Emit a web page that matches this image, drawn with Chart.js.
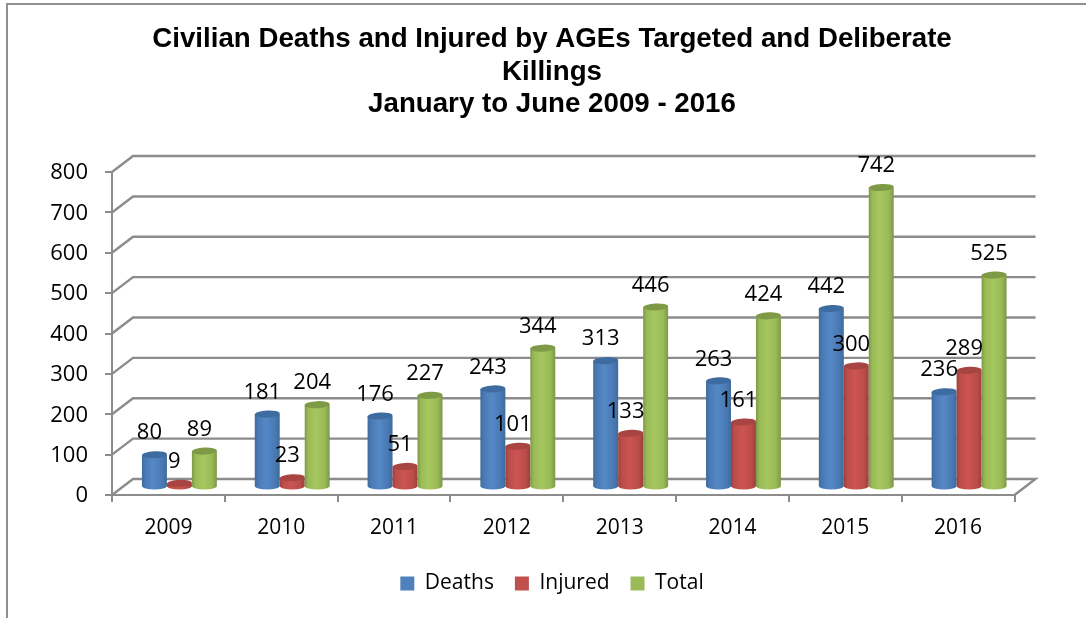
<!DOCTYPE html>
<html>
<head>
<meta charset="utf-8">
<style>html,body{margin:0;padding:0;background:#fff}canvas{display:block}</style>
<script src="https://cdn.jsdelivr.net/npm/chart.js@4"></script>
</head>
<body>
<canvas id="c" width="1086" height="618"></canvas>
<script>
const titleLines = ['Civilian Deaths and Injured by AGEs Targeted and Deliberate', 'Killings', 'January to June 2009 - 2016'];
const years = ['2009', '2010', '2011', '2012', '2013', '2014', '2015', '2016'];
const deaths = [80, 181, 176, 243, 313, 263, 442, 236];
const injured = [9, 23, 51, 101, 133, 161, 300, 289];
const total = [89, 204, 227, 344, 446, 424, 742, 525];
const yTicks = [0, 100, 200, 300, 400, 500, 600, 700, 800];

const FONT = '"Open Sans", Lato, sans-serif';
const GRID = '#8c8c8c';
const DX = 21, DY = 16;        // depth of the 3D box
const BAR_DX = 11, BAR_DY = 8; // bars stand in the middle of the floor

const palette = {
  Deaths:  {base:'#4f81bd', dark:'#3f6a9c', mid:'#4a7ab5', light:'#5488c6', top:'#3e6ca1'},
  Injured: {base:'#c0504d', dark:'#9d403e', mid:'#bb4d4a', light:'#cc5451', top:'#a84542'},
  Total:   {base:'#9bbb59', dark:'#7d9848', mid:'#9aba57', light:'#a6c75f', top:'#7f9a47'}
};

const wall3d = {
  id: 'wall3d',
  beforeDraw(chart) {
    const {ctx, scales:{x, y}, chartArea:a} = chart;
    ctx.save();
    ctx.fillStyle = '#fff';
    ctx.fillRect(0, 0, chart.width, chart.height);
    // outer frame
    ctx.strokeStyle = '#8f8f8f';
    ctx.lineWidth = 2;
    ctx.beginPath();
    ctx.moveTo(7, 618); ctx.lineTo(7, 4); ctx.lineTo(1086, 4);
    ctx.stroke();
    // gridlines on side wall and back wall
    ctx.strokeStyle = GRID;
    ctx.lineWidth = 2.4;
    ctx.lineJoin = 'miter';
    for (const v of yTicks) {
      const py = y.getPixelForValue(v);
      ctx.beginPath();
      ctx.moveTo(a.left, py);
      ctx.lineTo(a.left + DX, py - DY);
      ctx.lineTo(a.right + DX, py - DY);
      if (v === 0) ctx.lineTo(a.right, py);
      ctx.stroke();
    }
    ctx.restore();
  },
  beforeDatasetsDraw(chart) {
    const {ctx} = chart;
    chart.data.datasets.forEach((ds, di) => {
      const c = palette[ds.label];
      chart.getDatasetMeta(di).data.forEach((bar, i) => {
        const w = bar.width, r = w / 2, ry = 3.5;
        const cx = bar.x + BAR_DX, top = bar.y - BAR_DY, base = bar.base - BAR_DY;
        const left = cx - r, right = cx + r;
        const g = ctx.createLinearGradient(left, 0, right, 0);
        g.addColorStop(0, c.dark);
        g.addColorStop(0.14, c.mid);
        g.addColorStop(0.45, c.light);
        g.addColorStop(0.8, c.mid);
        g.addColorStop(1, c.dark);
        ctx.save();
        ctx.fillStyle = g;
        ctx.beginPath();
        ctx.moveTo(left, top);
        ctx.lineTo(left, base);
        ctx.ellipse(cx, base, r, ry, 0, Math.PI, 0, true);
        ctx.lineTo(right, top);
        ctx.closePath();
        ctx.fill();
        ctx.fillStyle = c.top;
        ctx.beginPath();
        ctx.ellipse(cx, top, r, ry, -0.05, 0, Math.PI * 2);
        ctx.fill();
        ctx.restore();
      });
    });
    // value labels
    ctx.save();
    ctx.font = '22px ' + FONT;
    ctx.fillStyle = '#000';
    ctx.textAlign = 'center';
    ctx.textBaseline = 'middle';
    chart.data.datasets.forEach((ds, di) => {
      chart.getDatasetMeta(di).data.forEach((bar, i) => {
        ctx.fillText(String(ds.data[i]), bar.x + BAR_DX - 5, bar.y - BAR_DY - 21.5);
      });
    });
    ctx.restore();
    return false;
  }
};

new Chart(document.getElementById('c'), {
  type: 'bar',
  data: {
    labels: years,
    datasets: [
      {label:'Deaths', data:deaths, backgroundColor:palette.Deaths.base},
      {label:'Injured', data:injured, backgroundColor:palette.Injured.base},
      {label:'Total', data:total, backgroundColor:palette.Total.base}
    ]
  },
  plugins: [wall3d],
  options: {
    responsive: false,
    animation: false,
    layout: {padding: {left: 18, right: 0, top: 0, bottom: 14}},
    datasets: {bar: {categoryPercentage: 0.664, barPercentage: 1}},
    plugins: {
      title: {
        display: true,
        text: titleLines,
        color: '#000',
        font: {family: '"Liberation Sans", Arial, sans-serif', size: 27.7, weight: 'bold', lineHeight: 1.18},
        padding: {top: 23, bottom: 51}
      },
      legend: {
        position: 'bottom',
        labels: {
          color: '#000',
          font: {family: FONT, size: 21},
          boxWidth: 14,
          boxHeight: 14,
          padding: 21
        }
      },
      tooltip: {enabled: false}
    },
    scales: {
      x: {
        grid: {drawOnChartArea: false, drawTicks: true, tickLength: 7, color: GRID, lineWidth: 2},
        border: {display: true, color: GRID, width: 2},
        ticks: {color: '#000', font: {family: FONT, size: 21}, padding: 13},
        afterFit(s) { s.height = 57; }
      },
      y: {
        min: 0, max: 800,
        afterBuildTicks(s) { s.ticks = yTicks.map(v => ({value: v})); },
        grid: {drawOnChartArea: false, drawTicks: true, tickLength: 7, color: GRID, lineWidth: 2},
        border: {display: true, color: GRID, width: 2},
        ticks: {color: '#000', font: {family: FONT, size: 22}, padding: 17, labelOffset: 1},
        afterFit(s) { s.width = 94; }
      },
      pad: {
        position: 'right',
        display: true,
        grid: {display: false},
        border: {display: false},
        ticks: {display: false},
        afterFit(s) { s.width = 71.5; }
      }
    }
  }
});
</script>
</body>
</html>
